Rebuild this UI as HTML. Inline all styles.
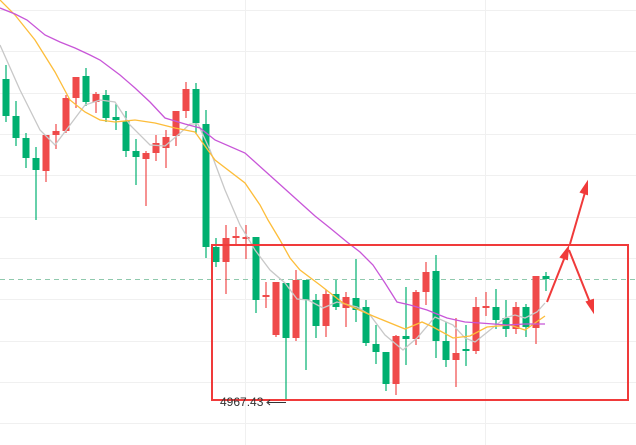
<!DOCTYPE html>
<html><head><meta charset="utf-8"><style>html,body{margin:0;padding:0;background:#fff}svg{display:block}</style></head>
<body>
<svg id="s" width="636" height="445" viewBox="0 0 636 445" xmlns="http://www.w3.org/2000/svg">
<g stroke="#f0f0f0" stroke-width="1">
<line x1="0" y1="10.5" x2="636" y2="10.5"/><line x1="0" y1="51.5" x2="636" y2="51.5"/><line x1="0" y1="93.5" x2="636" y2="93.5"/><line x1="0" y1="134.5" x2="636" y2="134.5"/><line x1="0" y1="175.5" x2="636" y2="175.5"/><line x1="0" y1="217.5" x2="636" y2="217.5"/><line x1="0" y1="258.5" x2="636" y2="258.5"/><line x1="0" y1="299.5" x2="636" y2="299.5"/><line x1="0" y1="341.5" x2="636" y2="341.5"/><line x1="0" y1="382.5" x2="636" y2="382.5"/><line x1="0" y1="423.5" x2="636" y2="423.5"/>
<line x1="245.5" y1="0" x2="245.5" y2="445"/><line x1="485.5" y1="0" x2="485.5" y2="445"/>
</g>
<line x1="0" y1="279.5" x2="636" y2="279.5" stroke="#8fc9ad" stroke-width="1" stroke-dasharray="5,4"/>
<g id="c"></g>
<polyline fill="none" stroke="#c8c8c8" stroke-width="1.3" points="0,45 20,90 40,130 55,145 70,125 85,105 100,100 115,102 130,125 150,145 165,146 178,135 190,124 198,124 210,150 225,190 240,225 255,250 270,270 285,283 297,299 308,300 323,308 337,302 357,307 370,315 385,335 403,350 417,338 435,317 453,325 465,338 475,342 490,330 505,318 515,315 525,318 537,312 545,303"/>
<polyline fill="none" stroke="#fdbd3a" stroke-width="1.3" points="0,0 15,15 35,40 55,72 70,100 85,112 100,120 115,122 135,120 155,123 175,128 195,132 215,160 245,183 260,205 268,220 280,240 290,258 300,270 320,285 343,303 373,316 405,329 422,322 433,327 453,338 470,336 487,327 510,325 525,330 545,316"/>
<polyline fill="none" stroke="#c856d8" stroke-width="1.3" points="0,8 15,14 27,20 45,35 60,42 75,48 90,55 100,60 120,75 135,88 150,102 165,118 185,124 200,128 215,140 245,153 275,180 305,207 315,216 330,228 347,242 360,252 373,265 385,283 397,302 410,305 427,310 447,318 465,322 480,323 507,325 525,324 545,324"/>
<rect x="212" y="245" width="416" height="155" fill="none" stroke="#f03a3a" stroke-width="2"/>
<g stroke="#f03a3a" stroke-width="2" fill="#f03a3a">
<line x1="547" y1="302" x2="566" y2="254"/><polygon points="568,248 561,257 567,259"/>
<line x1="570" y1="244" x2="586" y2="189"/><polygon points="587,183 581,192 587,194"/>
<line x1="569" y1="250" x2="591" y2="305"/><polygon points="593,311 587,302 593,300"/>
</g>
<text x="220" y="406" font-family="Liberation Sans, sans-serif" font-size="12" fill="#333">4967.43</text>
<line x1="268" y1="402.5" x2="286" y2="402.5" stroke="#333" stroke-width="1"/>
<polyline points="270,400 267,402.5 270,405" fill="none" stroke="#333"/>
</svg>
<script>
var d=[
['g',79,116,65,122],['g',116,138,101,146],['g',138,158,133,168],['g',158,170,147,220],['r',135,171,135,182],['r',131,135,124,149],['r',98,131,95,133],['r',77,98,77,108],['g',76,102,68,106],['r',94,102,92,113],['g',95,118,90,122],['g',117,120,104,130],['g',121,151,111,157],['g',151,157,139,185],['r',153,159,151,206],['r',143,153,135,161],['r',137,148,130,168],['r',111,136,111,146],['r',89,111,82,118],['g',89,123,83,134],['g',124,247,110,258],['g',247,262,238,267],['r',238,262,225,294],['r',236,238,227,244],['r',237,239,225,259],['g',237,300,237,313],['r',295,297,282,308],['r',282,335,282,337],['g',283,338,283,400],['r',280,338,270,341],['g',280,300,280,370],['g',300,326,294,338],['r',294,326,290,337],['g',294,307,280,310],['r',297,308,292,327],['g',298,310,259,322],['g',307,343,300,346],['g',344,352,325,364],['g',352,384,352,391],['r',336,384,335,395],['g',336,339,287,365],['r',292,339,290,345],['r',272,292,262,305],['g',271,341,255,358],['g',341,360,322,367],['r',353,360,318,387],['g',349,351,325,366],['r',307,351,297,354],['r',306,308,292,316],['g',307,320,289,329],['g',318,329,300,337],['r',307,329,302,334],['g',307,327,304,337],['r',276,328,276,344],['g',276,279,272,291]];
var g=document.getElementById('c'),h='';
d.forEach(function(c,i){var x=6+i*10,col=c[0]=='g'?'#00b070':'#ef4a4a';var bh=Math.max(c[2]-c[1],2);
h+='<line x1="'+x+'" y1="'+c[3]+'" x2="'+x+'" y2="'+c[4]+'" stroke="'+col+'" stroke-width="1.2"/>';
h+='<rect x="'+(x-3.5)+'" y="'+c[1]+'" width="7" height="'+bh+'" fill="'+col+'"/>';});
g.innerHTML=h;
</script>
</body></html>
